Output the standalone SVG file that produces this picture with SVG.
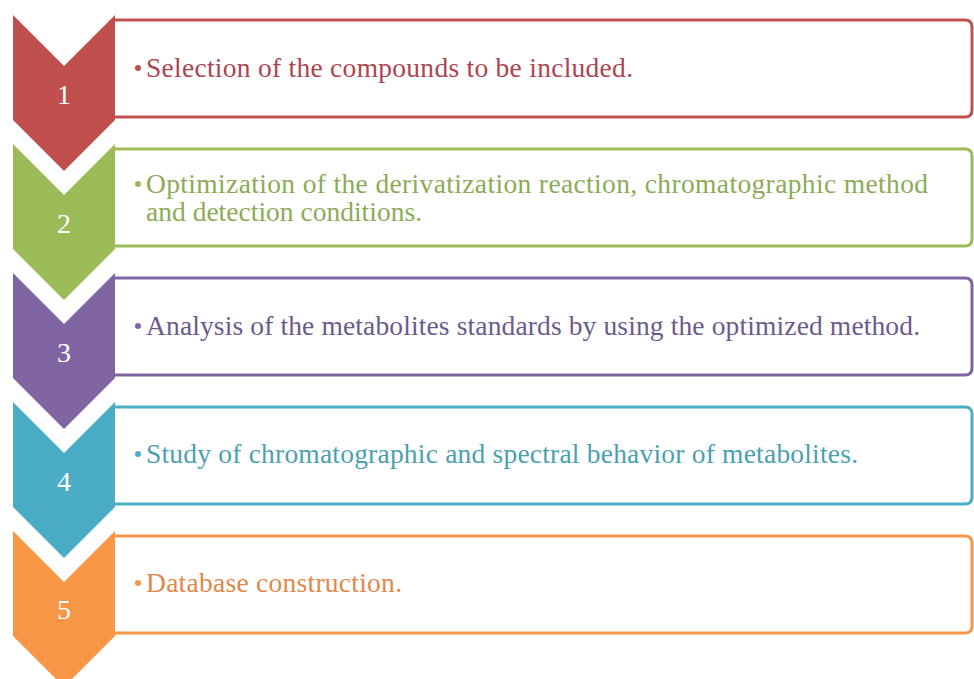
<svg xmlns="http://www.w3.org/2000/svg" width="974" height="679" viewBox="0 0 974 679">
<style>
.box{fill:#ffffff;stroke-width:3}
.num{font-family:"Liberation Serif","DejaVu Serif",serif;font-size:28px;fill:#ffffff;text-anchor:middle}
.txt{font-family:"Liberation Serif","DejaVu Serif",serif;font-size:27.5px}
</style>
<defs>
<path id="chev" d="M13 0 L64 51 L115 0 L115 105 L64 156 L13 105 Z"/>
<path id="box" d="M115 0 H965 Q972 0 972 7 V90 Q972 97 965 97 H115"/>
</defs>
<rect width="974" height="679" fill="#ffffff"/>
<g id="step1">
<use href="#box" y="20" class="box" stroke="#c0504d"/>
<use href="#chev" y="15" fill="#c0504d"/>
<text class="num" x="64" y="104">1</text>
<circle cx="138" cy="68" r="3" fill="#c0504d"/>
<text class="txt" x="146" y="77" fill="#ad4450" textLength="487" lengthAdjust="spacing">Selection of the compounds to be included.</text>
</g>
<g id="step2">
<use href="#box" y="149" class="box" stroke="#9bbb59"/>
<use href="#chev" y="144" fill="#9bbb59"/>
<text class="num" x="64" y="233">2</text>
<circle cx="138" cy="184" r="3" fill="#9bbb59"/>
<text class="txt" x="146" y="193" fill="#8bab58" textLength="782" lengthAdjust="spacing">Optimization of the derivatization  reaction, chromatographic method</text>
<text class="txt" x="146" y="221" fill="#8bab58" textLength="276" lengthAdjust="spacing">and detection conditions.</text>
</g>
<g id="step3">
<use href="#box" y="278" class="box" stroke="#8064a2"/>
<use href="#chev" y="273" fill="#8064a2"/>
<text class="num" x="64" y="362">3</text>
<circle cx="138" cy="326" r="3" fill="#8064a2"/>
<text class="txt" x="146" y="335" fill="#6b5a8c" textLength="774" lengthAdjust="spacing">Analysis of the metabolites standards by using the optimized  method.</text>
</g>
<g id="step4">
<use href="#box" y="407" class="box" stroke="#4bacc6"/>
<use href="#chev" y="402" fill="#4bacc6"/>
<text class="num" x="64" y="491">4</text>
<circle cx="138" cy="454" r="3" fill="#4bacc6"/>
<text class="txt" x="146" y="463" fill="#4a9fb0" textLength="712" lengthAdjust="spacing">Study of chromatographic and spectral behavior of metabolites.</text>
</g>
<g id="step5">
<use href="#box" y="536" class="box" stroke="#f79646"/>
<use href="#chev" y="531" fill="#f79646"/>
<text class="num" x="64" y="619">5</text>
<circle cx="138" cy="583" r="3" fill="#f79646"/>
<text class="txt" x="146" y="592" fill="#e0884a" textLength="256" lengthAdjust="spacing">Database construction.</text>
</g>
<g id="connectors"/>
</svg>
